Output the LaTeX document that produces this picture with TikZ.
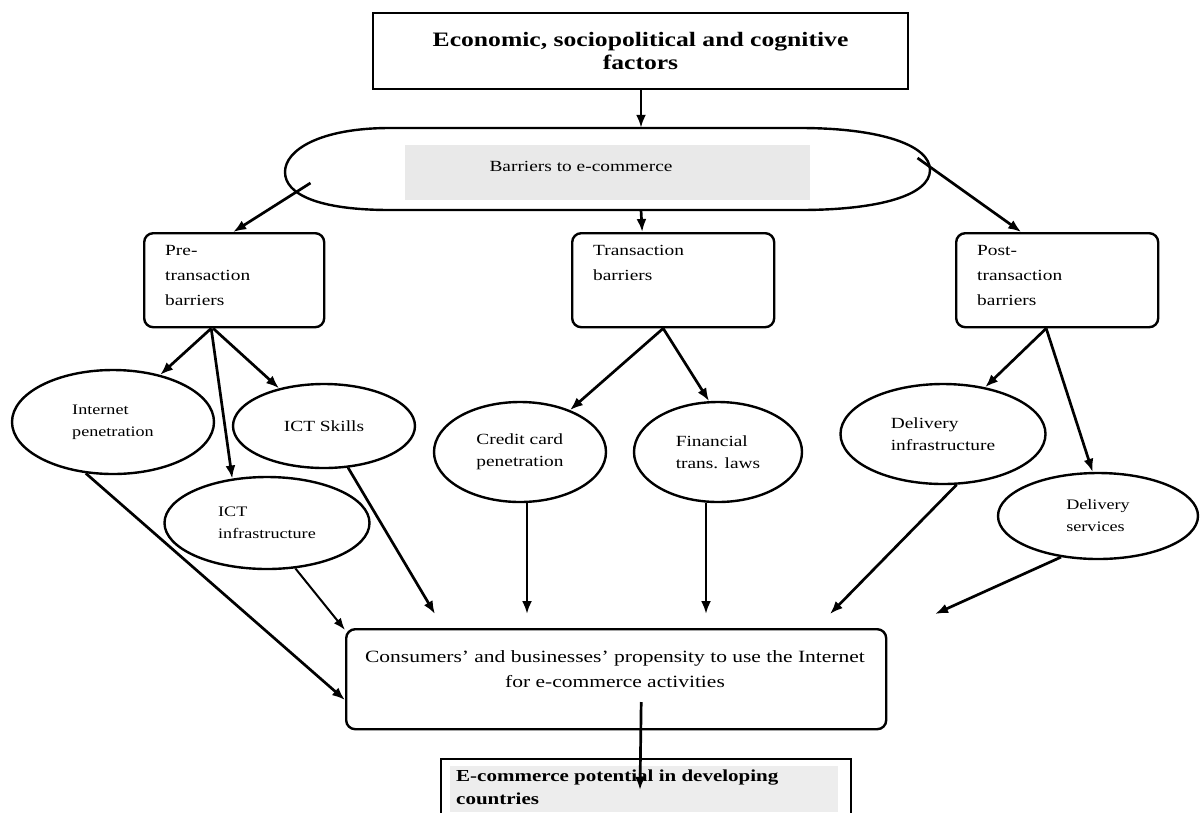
\documentclass[tikz,border=0pt]{standalone}
\usepackage{fontspec}
\setmainfont{Liberation Serif}[FakeStretch=1.25]
\usetikzlibrary{shapes.geometric,arrows.meta,calc}
\newcommand{\fTop}{\bfseries\fontsize{20.5}{23}\selectfont}
\newcommand{\fMid}{\fontsize{15.5}{25}\selectfont}
\newcommand{\fCon}{\fontsize{17.2}{25}\selectfont}
\newcommand{\fEll}{\fontsize{15.5}{22}\selectfont}
\newcommand{\fSml}{\fontsize{14.5}{22}\selectfont}
\tikzset{
  arr/.style={-{Latex[length=13pt,width=10pt]}, line width=2.7pt},
  tarr/.style={-{Latex[length=12pt,width=9pt]}, line width=2pt},
  rbox/.style={draw, line width=2.4pt, rounded corners=9pt, inner sep=0pt},
  ell/.style={draw, ellipse, line width=2.4pt, inner sep=0pt, align=left},
  lbl/.style={inner sep=0pt, align=left, anchor=north west}
}
\begin{document}
\begin{tikzpicture}[x=1pt,y=-1pt]
\useasboundingbox (0,0) rectangle (1202,812);
\fill[white] (0,0) rectangle (1202,812);

% top box
\node[draw, line width=2.2pt, minimum width=535pt, minimum height=76pt, inner sep=0pt, align=center, font=\fTop] (top) at (640.5,51) {Economic, sociopolitical and cognitive\\factors};

% stadium
\node[minimum width=645pt, minimum height=82pt, inner sep=0pt] (bar) at (607.5,169) {};
\draw[line width=2.4pt] (390,128) -- (800,128) .. controls (880,128) and (930,145) .. (930,170)
  .. controls (930,195) and (880,210) .. (800,210) -- (390,210)
  .. controls (320,210) and (285,195) .. (285,172) .. controls (285,150) and (320,128) .. (390,128) -- cycle;
\fill[gray!17] (405,145) rectangle (810,200);
\node[inner sep=0pt, font=\fMid] (bartxt) at (581,166) {Barriers to e-commerce};

% barrier boxes
\node[rbox, minimum width=180pt, minimum height=94pt, anchor=north west] (pre) at (143,232) {};
\node[lbl, font=\fMid] (pretxt) at (165,245) {Pre-\\transaction\\barriers};
\node[rbox, minimum width=202pt, minimum height=94pt, anchor=north west] (tra) at (571,232) {};
\node[lbl, font=\fMid] (tratxt) at (593,245) {Transaction\\barriers};
\node[rbox, minimum width=202pt, minimum height=94pt, anchor=north west] (pos) at (955,232) {};
\node[lbl, font=\fMid] (postxt) at (977,245) {Post-\\transaction\\barriers};

% ellipses
\node[ell, minimum width=202pt, minimum height=104pt, font=\fSml] (inet) at (113,422) {Internet\\penetration};
\node[ell, minimum width=182pt, minimum height=84pt, font=\fEll] (icts) at (324,426) {ICT Skills};
\node[ell, minimum width=205pt, minimum height=92pt, font=\fSml] (icti) at (267,523) {ICT\\infrastructure};
\node[ell, minimum width=172pt, minimum height=100pt, font=\fEll] (cred) at (520,452) {Credit card\\penetration};
\node[ell, minimum width=168pt, minimum height=100pt, font=\fEll] (fin) at (718,452) {Financial\\trans. laws};
\node[ell, minimum width=205pt, minimum height=100pt, font=\fEll] (dinf) at (943,434) {Delivery\\infrastructure};
\node[ell, minimum width=200pt, minimum height=86pt, font=\fSml] (dser) at (1098,516) {Delivery\\services};

% consumer box
\node[rbox, minimum width=540pt, minimum height=100pt, anchor=north west] (con) at (345,628) {};
\node[inner sep=0pt, align=center, font=\fCon, anchor=north] (context) at (615,650) {Consumers' and businesses' propensity to use the Internet\\for e-commerce activities};

% bottom box
\node[draw, line width=2.2pt, minimum width=410pt, minimum height=70pt, inner sep=0pt, anchor=north west] (pot) at (440,758) {};
\fill[gray!14] (450,766) rectangle (838,812);
\node[lbl, font=\bfseries\fontsize{16.8}{23}\selectfont] (pottxt) at (456,770) {E-commerce potential in developing\\countries};

% arrows
\draw[arr] ([xshift=0.5pt]top.south) -- ([xshift=33.5pt]bar.north);
\draw[arr] ([xshift=-297pt,yshift=-14pt]bar.center) -- ([xshift=-1pt]pre.north);
\draw[arr] ([xshift=33.5pt]bar.south) -- ([xshift=-31pt]tra.north);
\draw[arr] ([xshift=310pt,yshift=11pt]bar.center) -- ([xshift=-36pt]pos.north);

\draw[arr] ([xshift=-23pt]pre.south) -- (inet.45);
\draw[arr] ([xshift=-23pt]pre.south) -- (icti.128);
\draw[arr] ([xshift=-21pt]pre.south) -- (icts.140);
\draw[arr] ([xshift=-10pt]tra.south) -- (cred.40);
\draw[arr] ([xshift=-10pt]tra.south) -- (fin.100);
\draw[arr] ([xshift=-11pt]pos.south) -- (dinf.48);
\draw[arr] ([xshift=-11pt]pos.south) -- (dser.97);

\draw[arr] (inet.242) -- ([yshift=-72pt]con.north west);
\draw[tarr] (icti.302) -- ([yshift=-2pt]con.north west);
\draw[arr] (icts.300) -- ([xshift=90pt,yshift=14pt]con.north west);
\draw[arr] ([xshift=7pt]cred.south) -- ([xshift=182pt,yshift=14pt]con.north west);
\draw[arr] ([xshift=-12pt]fin.south) -- ([xshift=361pt,yshift=14pt]con.north west);
\draw[arr] (dinf.285) -- ([xshift=485pt,yshift=14pt]con.north west);
\draw[arr] (dser.228) -- ([xshift=590pt,yshift=14pt]con.north west);
\draw[arr] ([xshift=25pt,yshift=-74pt]con.north) -- ([xshift=200pt,yshift=-32pt]pot.north west);
\end{tikzpicture}
\end{document}
